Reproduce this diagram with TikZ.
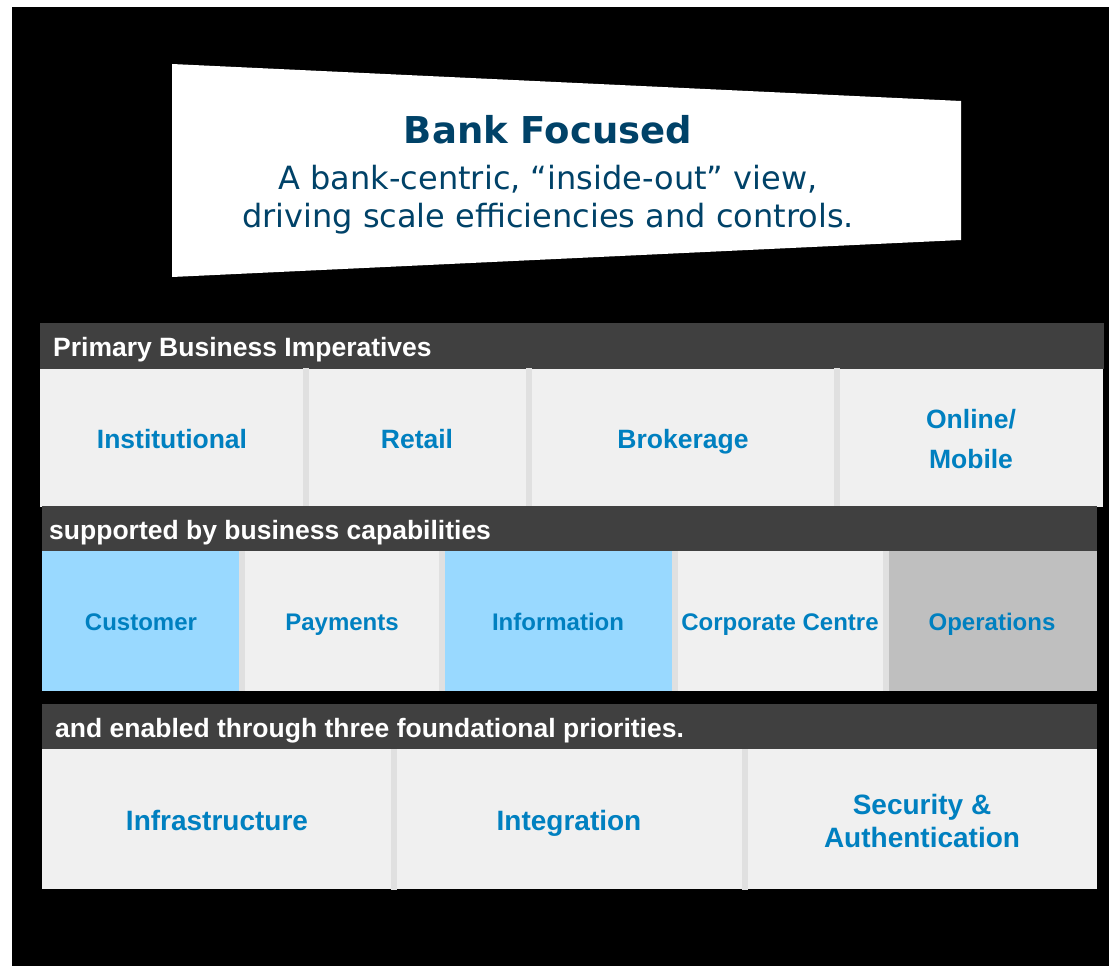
\documentclass[tikz,border=0pt]{standalone}
\usepackage{fontspec}
\setmainfont{Liberation Sans}
\newfontfamily\leadfont{DejaVu Sans}
\definecolor{titleblue}{RGB}{0,66,104}
\definecolor{hdrgray}{RGB}{64,64,64}
\definecolor{cellgray}{RGB}{240,240,240}
\definecolor{sepgray}{RGB}{224,224,224}
\definecolor{capblue}{RGB}{153,217,255}
\definecolor{opsgray}{RGB}{191,191,191}
\definecolor{labelblue}{RGB}{0,128,192}
\begin{document}
\begin{tikzpicture}[x=1pt,y=-1pt,
  hdrtext/.style={anchor=base west, text=white, font=\bfseries\fontsize{26.5}{30}\selectfont, inner sep=0pt},
  lbl/.style={text=labelblue, anchor=base, inner sep=0pt},
  lblA/.style={lbl, font=\bfseries\fontsize{26.5}{40}\selectfont},
  lblB/.style={lbl, font=\bfseries\fontsize{24}{30}\selectfont},
  lblC/.style={lbl, font=\bfseries\fontsize{28}{34}\selectfont},
  leadtitle/.style={anchor=base, text=titleblue, inner sep=0pt, font=\leadfont\bfseries\fontsize{37}{40}\selectfont},
  leadline/.style={anchor=base, text=titleblue, inner sep=0pt, font=\leadfont\fontsize{32}{36}\selectfont}]
\useasboundingbox (0,0) rectangle (1109,966);
\fill[white] (0,0) rectangle (1109,966);
\fill[black] (12,7) rectangle (1109,966);

% lead-in banner
\fill[white] (172,64) -- (961,101) -- (961,240) -- (172,277) -- cycle;
\node[leadtitle] (title) at (548,143) {Bank Focused};
\node[leadline] (lead1) at (548,189) {A bank-centric, “inside-out” view,};
\node[leadline] (lead2) at (548,227) {driving scale efficiencies and controls.};

% tier 1: business imperatives
\fill[hdrgray] (40,323) rectangle (1104,369);
\node[hdrtext] (h1) at (53,356) {Primary Business Imperatives};
\fill[cellgray] (40,369) rectangle (1103,507);
\fill[sepgray] (303,368) rectangle (309,507);
\fill[sepgray] (526,368) rectangle (532,507);
\fill[sepgray] (834,368) rectangle (840,507);
\node[lblA] (inst) at (172,448) {Institutional};
\node[lblA] (retail) at (417,448) {Retail};
\node[lblA] (brok) at (683,448) {Brokerage};
\node[lblA] (online1) at (971,428) {Online/};
\node[lblA] (online2) at (971,468) {Mobile};

% tier 2: business capabilities
\fill[hdrgray] (42,506) rectangle (1097,551);
\node[hdrtext] (h2) at (49,539) {supported by business capabilities};
\fill[capblue] (42,551) rectangle (239,691);
\fill[sepgray] (239,551) rectangle (245,691);
\fill[cellgray] (245,551) rectangle (439,691);
\fill[sepgray] (439,551) rectangle (445,691);
\fill[capblue] (445,551) rectangle (672,691);
\fill[sepgray] (672,551) rectangle (678,691);
\fill[cellgray] (678,551) rectangle (883,691);
\fill[sepgray] (883,551) rectangle (889,691);
\fill[opsgray] (889,551) rectangle (1097,691);
\node[lblB] (cust) at (141,630.5) {Customer};
\node[lblB] (pay) at (342,630.5) {Payments};
\node[lblB] (info) at (558,630.5) {Information};
\node[lblB] (corp) at (780,630.5) {Corporate Centre};
\node[lblB] (ops) at (992,630.5) {Operations};

% tier 3: foundational priorities
\fill[hdrgray] (42,704) rectangle (1097,749);
\node[hdrtext] (h3) at (55,737) {and enabled through three foundational priorities.};
\fill[cellgray] (42,749) rectangle (1097,889);
\fill[sepgray] (391,749) rectangle (397,890);
\fill[sepgray] (742,749) rectangle (748,890);
\node[lblC] (infra) at (217,830) {Infrastructure};
\node[lblC] (integ) at (569,830) {Integration};
\node[lblC] (secu1) at (922,814) {Security \&};
\node[lblC] (secu2) at (922,847) {Authentication};
\end{tikzpicture}
\end{document}
